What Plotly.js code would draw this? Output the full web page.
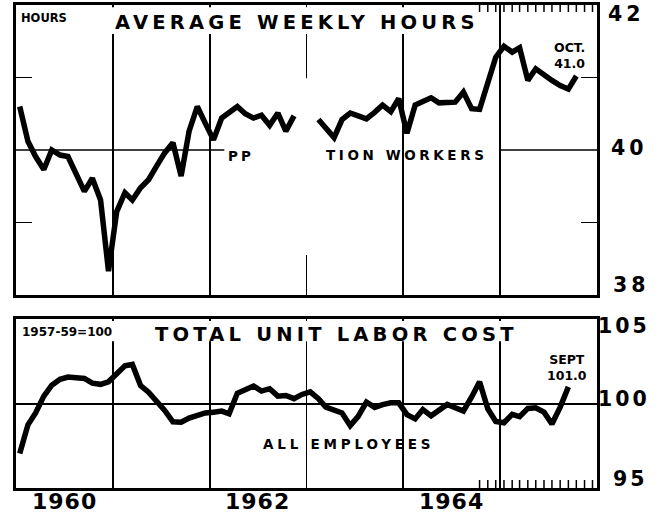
<!DOCTYPE html>
<html><head><meta charset="utf-8">
<script src="https://cdn.plot.ly/plotly-3.0.1.min.js"></script>
<style>html,body{margin:0;padding:0;background:#fff}#chart{width:664px;height:517px}</style>
</head><body><div id="chart"></div>
<script>
// ---- data (monthly values) ----
const years = [1960, 1961, 1962, 1963, 1964, 1965];

// Average weekly hours, production workers (null = gap in the printed line)
const hours1960 = [40.60, 40.12, 39.91, 39.73, 40.00, 39.93, 39.91, 39.65, 39.43, 39.61, 39.31, 38.33];
const hours1961 = [39.15, 39.41, 39.31, 39.48, 39.59, 39.78, 39.96, 40.10, 39.64, 40.26, 40.60, 40.37];
const hours1962 = [40.14, 40.44, 40.52, 40.60, 40.50, 40.44, 40.48, 40.34, 40.51, 40.26, 40.47, null];
const hours1963 = [null, 40.42, 40.30, 40.17, 40.42, 40.51, 40.47, 40.43, 40.52, 40.62, 40.53, 40.71];
const hours1964 = [40.23, 40.62, 40.67, 40.72, 40.65, 40.65, 40.66, 40.80, 40.57, 40.56, 40.92, 41.28];
const hours1965 = [41.43, 41.35, 41.41, 40.96, 41.12, 41.03, 40.96, 40.89, 40.84, 41.02];

// Total unit labor cost, all employees (1957-59=100)
const cost1960 = [97.05, 98.75, 99.45, 100.45, 101.10, 101.45, 101.58, 101.55, 101.50, 101.22, 101.15, 101.30];
const cost1961 = [101.75, 102.25, 102.33, 101.08, 100.68, 100.15, 99.60, 98.93, 98.90, 99.15, 99.33, 99.45];
const cost1962 = [99.50, 99.56, 99.40, 100.62, 100.83, 101.05, 100.75, 100.89, 100.45, 100.49, 100.30, 100.55];
const cost1963 = [100.70, 100.30, 99.80, 99.60, 99.45, 98.70, 99.25, 100.10, 99.78, 99.95, 100.05, 100.05];
const cost1964 = [99.35, 99.10, 99.65, 99.28, 99.65, 99.96, 99.76, 99.56, 100.40, 101.30, 99.70, 98.95];
const cost1965 = [98.87, 99.37, 99.23, 99.72, 99.76, 99.50, 98.80, 99.80, 101.00];

const hoursByYear = [hours1960, hours1961, hours1962, hours1963, hours1964, hours1965];
const costByYear = [cost1960, cost1961, cost1962, cost1963, cost1964, cost1965];

const yearLabels = ['1960', '1962', '1964'];
const hoursTickVals = [39, 41];
const hoursLabels = ['42', '40', '38'];
const costLabels = ['105', '100', '95'];
const hoursNote = ['OCT.', '41.0'];
const costNote = ['SEPT', '101.0'];

// ---- helpers ----
const pad = n => String(n).padStart(2, '0');
function buildSeries(byYear) {
  const x = [], y = [];
  byYear.forEach((vals, i) => vals.forEach((v, m) => { x.push(`${years[i]}-${pad(m + 1)}-15`); y.push(v); }));
  return {x, y};
}
const H = buildSeries(hoursByYear);
const C = buildSeries(costByYear);

const xRange = ['1960-01-01', '1966-01-01'];
const yearBounds = years.slice(1).map(y => `${y}-01-01`);
const monthTicks = [];
['1964-10', '1964-11', '1964-12'].forEach(m => monthTicks.push(m + '-15'));
for (let m = 1; m <= 12; m++) monthTicks.push(`1965-${pad(m)}-15`);

const FONT = 'DejaVu Sans, sans-serif';
const sp = (t, ls) => `<span style="letter-spacing:${ls}px">${t}</span>`;

const traces = [
  {x: H.x, y: H.y, xaxis: 'x', yaxis: 'y', mode: 'lines', connectgaps: false,
   line: {color: '#000', width: 5.5}, hoverinfo: 'skip'},
  {x: C.x, y: C.y, xaxis: 'x2', yaxis: 'y2', mode: 'lines',
   line: {color: '#000', width: 5.5}, hoverinfo: 'skip'}
];

const baseX = {
  type: 'date', range: xRange, tickmode: 'array', tickvals: yearBounds,
  showgrid: true, gridcolor: '#000', gridwidth: 1.6, showticklabels: false,
  ticks: '', showline: true, linecolor: '#000', linewidth: 3, mirror: true, zeroline: false
};

const ann = [];
function A(o) { ann.push(Object.assign({showarrow: false, font: {family: FONT, size: 13, color: '#000', weight: 'bold'}}, o)); }

// titles and small labels
A({text: sp('AVERAGE WEEKLY HOURS', 4.2), xref: 'paper', x: 0.4836, yref: 'y', y: 42, yshift: -17.5, xanchor: 'center', yanchor: 'middle', font: {family: FONT, size: 19.5, color: '#000', weight: 'bold'}});
A({text: sp('TOTAL UNIT LABOR COST', 4.2), xref: 'paper', x: 0.5516, yref: 'y2', y: 105, yshift: -15.5, xanchor: 'center', yanchor: 'middle', font: {family: FONT, size: 19.5, color: '#000', weight: 'bold'}});
A({text: 'HOURS', xref: 'paper', x: 0, xshift: 3, yref: 'y', y: 42, yshift: -13, xanchor: 'left', yanchor: 'middle', font: {family: FONT, size: 11.5, color: '#000', weight: 'bold'}});
A({text: '1957-59=100', xref: 'paper', x: 0, xshift: 4, yref: 'y2', y: 105, yshift: -12.5, xanchor: 'left', yanchor: 'middle', font: {family: FONT, size: 12, color: '#000', weight: 'bold'}});
A({text: sp('PP', 3), xref: 'paper', x: 0.387, yref: 'y', y: 40, yshift: -6, xanchor: 'center', yanchor: 'middle', font: {family: FONT, size: 13.5, color: '#000', weight: 'bold'}});
A({text: sp('TION WORKERS', 3.6), xref: 'paper', x: 0.672, yref: 'y', y: 40, yshift: -4.5, xanchor: 'center', yanchor: 'middle', font: {family: FONT, size: 13.5, color: '#000', weight: 'bold'}});
A({text: sp('ALL EMPLOYEES', 3.8), xref: 'paper', x: 0.573, yref: 'y2', y: 100, yshift: -40.7, xanchor: 'center', yanchor: 'middle', font: {family: FONT, size: 13.5, color: '#000', weight: 'bold'}});
A({text: hoursNote.join('<br>'), xref: 'paper', x: (569 - 16) / 581, yref: 'y', y: 41, yshift: 22.5, xanchor: 'center', yanchor: 'middle', font: {family: FONT, size: 12.5, color: '#000', weight: 'bold'}});
A({text: costNote.join('<br>'), xref: 'paper', x: (567 - 16) / 581, yref: 'y2', y: 100, yshift: 36, xanchor: 'center', yanchor: 'middle', font: {family: FONT, size: 12.5, color: '#000', weight: 'bold'}});

// right-hand scale labels
const BIG = {family: FONT, size: 20.5, color: '#000', weight: 'bold'};
[[hoursLabels[0], 42, -9, 29.5], [hoursLabels[1], 40, 2, 32.5], [hoursLabels[2], 38, 9.5, 34]].forEach(([t, v, ys, xs]) =>
  A({text: sp(t, 4), xref: 'paper', x: 1, xshift: xs, yref: 'y', y: v, yshift: ys, xanchor: 'center', yanchor: 'middle', font: BIG}));
[[costLabels[0], 105, -7, 26.5], [costLabels[1], 100, 5, 27], [costLabels[2], 95, 9, 33]].forEach(([t, v, ys, xs]) =>
  A({text: sp(t, 3), xref: 'paper', x: 1, xshift: xs, yref: 'y2', y: v, yshift: ys, xanchor: 'center', yanchor: 'middle', font: BIG}));

// year labels
yearLabels.forEach(y => A({text: sp(y, 1), xref: 'x2', x: `${y}-07-01`, yref: 'paper', y: 0, yshift: -13, xanchor: 'center', yanchor: 'middle', font: {family: FONT, size: 22, color: '#000', weight: 'bold'}}));

// decorations: partial 40-hour line, blank title bands, monthly ticks
const shapes = [
  {type: 'line', xref: 'x', yref: 'y', x0: xRange[0], x1: '1962-02-25', y0: 40, y1: 40, line: {color: '#000', width: 1.6}, layer: 'below'},
  {type: 'line', xref: 'x', yref: 'y', x0: '1965-01-01', x1: xRange[1], y0: 40, y1: 40, line: {color: '#000', width: 1.6}, layer: 'below'},
  {type: 'rect', xref: 'x', yref: 'y', x0: '1960-01-10', x1: '1964-12-20', y0: 41.6, y1: 41.97, fillcolor: '#fff', line: {width: 0}, layer: 'between'},
  {type: 'rect', xref: 'x', yref: 'y', x0: '1962-12-20', x1: '1963-01-12', y0: 38.55, y1: 40.99, fillcolor: '#fff', line: {width: 0}, layer: 'between'},
  {type: 'rect', xref: 'x2', yref: 'y2', x0: '1960-01-10', x1: '1965-12-20', y0: 103.7, y1: 104.9, fillcolor: '#fff', line: {width: 0}, layer: 'between'}
];
monthTicks.forEach(d => {
  shapes.push({type: 'line', xref: 'x', yref: 'y domain', x0: d, x1: d, y0: 1, y1: 1 - 7 / 290, line: {color: '#000', width: 1.5}, layer: 'above'});
  shapes.push({type: 'line', xref: 'x2', yref: 'y2 domain', x0: d, x1: d, y0: 0, y1: 8 / 169, line: {color: '#000', width: 1.5}, layer: 'above'});
});

const layout = {
  width: 664, height: 517, paper_bgcolor: '#fff', plot_bgcolor: '#fff',
  margin: {l: 16, r: 67, t: 5, b: 29}, showlegend: false,
  font: {family: FONT, color: '#000'},
  xaxis: Object.assign({}, baseX, {anchor: 'y'}),
  xaxis2: Object.assign({}, baseX, {anchor: 'y2'}),
  yaxis: {domain: [0.3996, 1], range: [38, 42], tickmode: 'array', tickvals: hoursTickVals,
          ticks: 'inside', ticklen: 16, tickwidth: 1.6, tickcolor: '#000', showticklabels: false,
          showgrid: false, zeroline: false, showline: true, linecolor: '#000', linewidth: 3, mirror: 'ticks'},
  yaxis2: {domain: [0, 0.349], range: [95, 105], tickmode: 'array', tickvals: [100],
           ticks: '', showticklabels: false, showgrid: true, gridcolor: '#000', gridwidth: 1.8,
           zeroline: false, showline: true, linecolor: '#000', linewidth: 3, mirror: true},
  annotations: ann, shapes: shapes
};

Plotly.newPlot('chart', traces, layout, {staticPlot: true, displayModeBar: false});
</script></body></html>
